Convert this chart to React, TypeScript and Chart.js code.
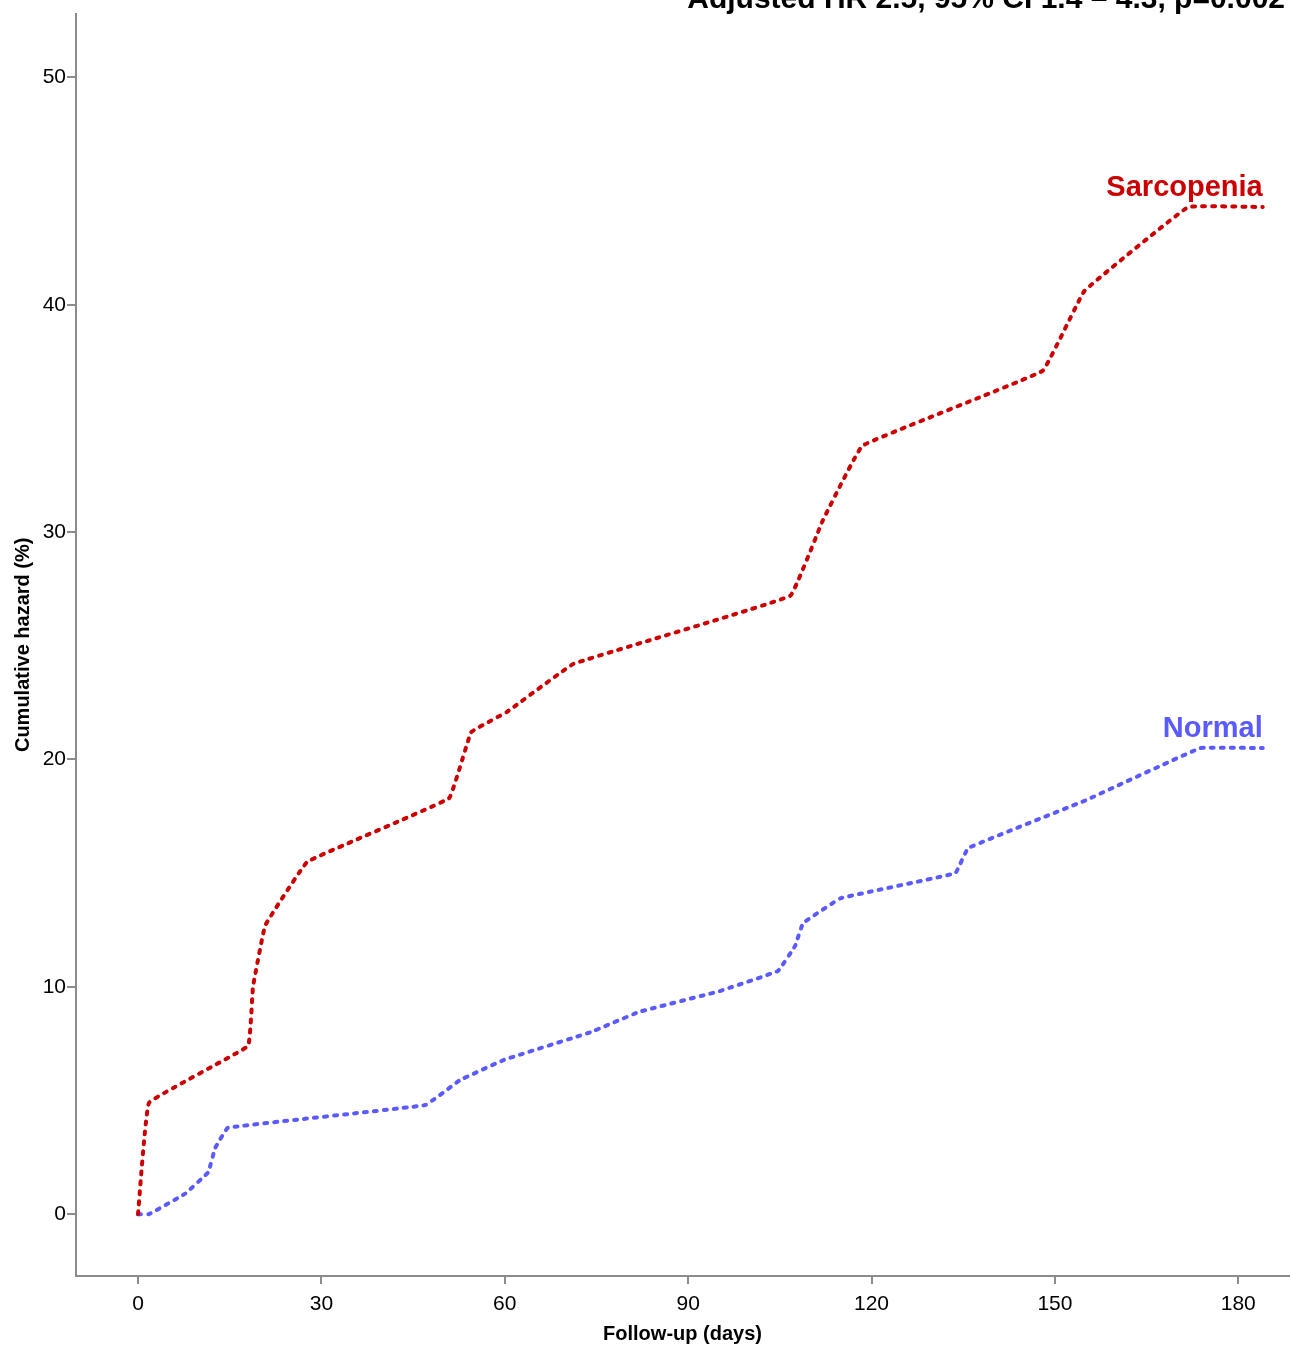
import React, { useEffect, useRef } from "react";
import { Chart, registerables } from "chart.js";

Chart.register(...registerables);

const sarcDays = [0, 1.8, 18, 18.8, 20.8, 27.7, 50.9, 54.5, 60.4, 71.2, 106.7, 112, 118.5, 148, 154.8, 171.8, 184];
const sarcHazard = [0, 4.9, 7.4, 10.0, 12.7, 15.5, 18.3, 21.2, 22.1, 24.2, 27.2, 30.5, 33.8, 37.1, 40.6, 44.3, 44.3];

const normDays = [0, 1.8, 7.7, 11.5, 12.6, 14.7, 47, 52.7, 60, 74, 82, 95, 104.7, 107.5, 108.8, 115, 133.7, 135.8, 155, 173.8, 184];
const normHazard = [0, 0, 0.9, 1.85, 2.9, 3.8, 4.8, 5.9, 6.8, 8.0, 8.9, 9.8, 10.7, 11.8, 12.8, 13.9, 15.0, 16.1, 18.2, 20.5, 20.5];

const xTicks = [0, 30, 60, 90, 120, 150, 180];
const yTicks = [0, 10, 20, 30, 40, 50];

const seriesNames = ["Sarcopenia", "Normal"];
const seriesColors = ["#cc0000", "#5a5aff"];
const titleText = "Adjusted HR 2.5, 95% CI 1.4 \u2013 4.3, p=0.002";

const FONT = "'Liberation Sans', Arial, sans-serif";

export default function App() {
  const ref = useRef<HTMLCanvasElement | null>(null);

  useEffect(() => {
    if (!ref.current) return;
    const labelPlugin = {
      id: "labels",
      afterDraw(chart: any) {
        const ctx = chart.ctx;
        const xs = chart.scales.x;
        const ys = chart.scales.y;
        ctx.save();
        ctx.textAlign = "right";
        ctx.textBaseline = "alphabetic";
        ctx.font = `bold 29px ${FONT}`;
        const ends = [
          [sarcDays[sarcDays.length - 1], sarcHazard[sarcHazard.length - 1]],
          [normDays[normDays.length - 1], normHazard[normHazard.length - 1]],
        ];
        ends.forEach((e, i) => {
          ctx.fillStyle = seriesColors[i];
          ctx.fillText(seriesNames[i], xs.getPixelForValue(e[0]), ys.getPixelForValue(e[1]) - 11);
        });
        ctx.fillStyle = "#000";
        ctx.font = `bold 30px ${FONT}`;
        ctx.fillText(titleText, 1285, 8);
        ctx.restore();
      },
    };

    const axisColor = "#8c8c8c";
    const common = {
      borderWidth: 4,
      borderDash: [3, 7],
      borderCapStyle: "round",
      borderJoinStyle: "round",
      pointRadius: 0,
      tension: 0.06,
      fill: false,
    };
    const chart = new Chart(ref.current, {
      type: "line",
      data: {
        datasets: [
          {
            label: seriesNames[0],
            data: sarcDays.map((d, i) => ({ x: d, y: sarcHazard[i] })),
            borderColor: seriesColors[0],
            ...common,
          },
          {
            label: seriesNames[1],
            data: normDays.map((d, i) => ({ x: d, y: normHazard[i] })),
            borderColor: seriesColors[1],
            ...common,
          },
        ],
      },
      options: {
        animation: false,
        responsive: false,
        maintainAspectRatio: false,
        layout: { padding: { top: 12, right: 2, left: 0, bottom: 0 } },
        plugins: { legend: { display: false }, tooltip: { enabled: false } },
        scales: {
          x: {
            type: "linear",
            min: -10.15,
            max: 188.3,
            afterBuildTicks: (s: any) => {
              s.ticks = xTicks.map((v) => ({ value: v }));
            },
            afterFit: (s: any) => {
              s.height = 71;
            },
            grid: { display: true, drawOnChartArea: false, drawTicks: true, tickLength: 8, color: axisColor, lineWidth: 2 },
            border: { display: true, color: axisColor, width: 2 },
            ticks: { color: "#000", font: { family: FONT, size: 21 }, padding: 8, maxRotation: 0 },
            title: { display: true, text: "Follow-up (days)", color: "#000", font: { family: FONT, size: 20, weight: "bold" }, padding: { top: 0, bottom: 1 } },
          },
          y: {
            type: "linear",
            min: -2.72,
            max: 52.81,
            afterBuildTicks: (s: any) => {
              s.ticks = yTicks.map((v) => ({ value: v }));
            },
            afterFit: (s: any) => {
              s.width = 76;
            },
            grid: { display: true, drawOnChartArea: false, drawTicks: true, tickLength: 9, color: axisColor, lineWidth: 2 },
            border: { display: true, color: axisColor, width: 2 },
            ticks: { color: "#000", font: { family: FONT, size: 21 }, padding: 1 },
            title: { display: true, text: "Cumulative hazard (%)", color: "#000", font: { family: FONT, size: 20, weight: "bold" }, padding: { top: 11, bottom: 0 } },
          },
        },
      },
      plugins: [labelPlugin],
    });
    return () => chart.destroy();
  }, []);

  return (
    <div style={{ position: "absolute", left: 0, top: 0, width: 1291, height: 1347, background: "#fff" }}>
      <canvas ref={ref} width={1291} height={1347} style={{ width: 1291, height: 1347 }} />
    </div>
  );
}
